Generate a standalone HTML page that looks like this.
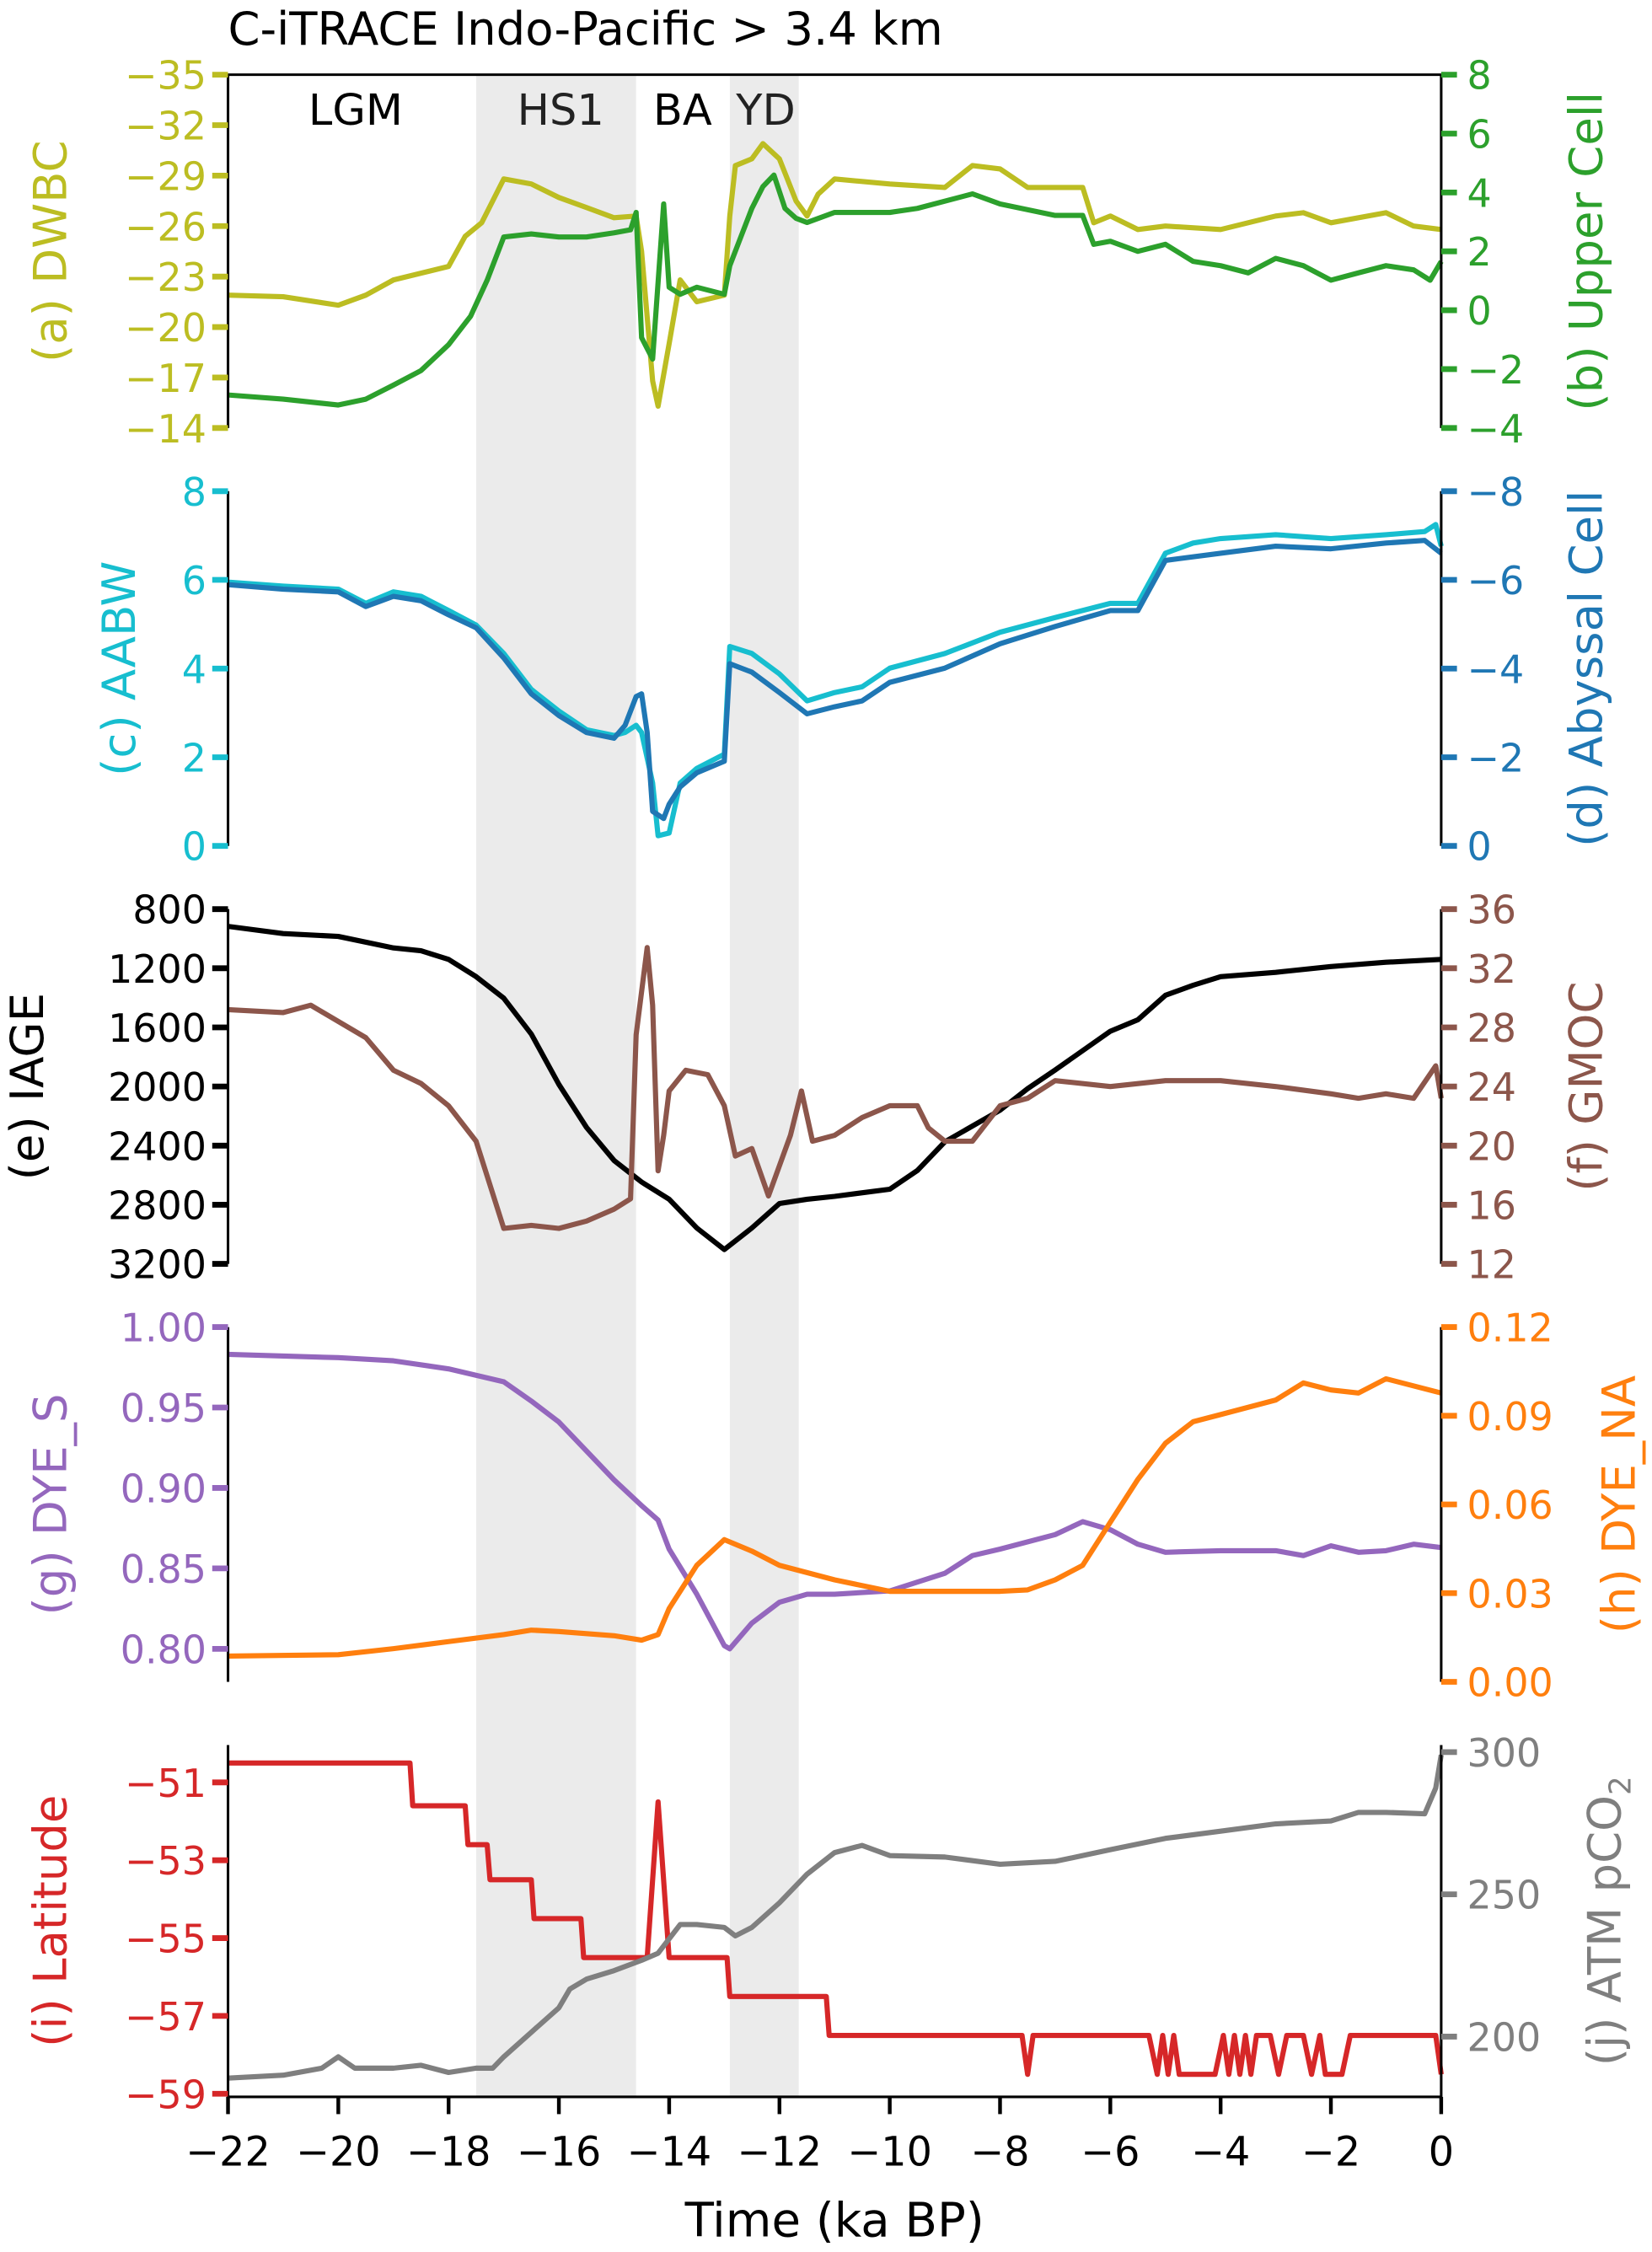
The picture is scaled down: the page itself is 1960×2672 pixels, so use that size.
<!DOCTYPE html>
<html><head><meta charset="utf-8"><style>
html,body{margin:0;padding:0;background:#fff}
svg{display:block}
text{font-family:"DejaVu Sans","Liberation Sans",sans-serif}
</style></head><body>
<svg id="chart" width="1960" height="2672" viewBox="0 0 1152 1568" preserveAspectRatio="none" xmlns="http://www.w3.org/2000/svg"></svg>
<script>
const dwbcT=[-22,-21,-20,-19.5,-19,-18.5,-18,-17.7,-17.4,-17,-16.5,-16,-15.5,-15,-14.6,-14.5,-14.3,-14.2,-14.0,-13.8,-13.5,-13,-12.9,-12.8,-12.5,-12.3,-12.0,-11.7,-11.5,-11.3,-11,-10,-9,-8.5,-8,-7.5,-6.5,-6.3,-6,-5.5,-5,-4,-3,-2.5,-2,-1,-0.5,0];
const dwbcV=[-21.9,-21.8,-21.3,-21.9,-22.8,-23.2,-23.6,-25.4,-26.2,-28.8,-28.5,-27.7,-27.1,-26.5,-26.6,-24.5,-16.8,-15.3,-19.0,-22.8,-21.5,-21.9,-26.6,-29.6,-30.0,-30.9,-30.0,-27.5,-26.6,-27.9,-28.8,-28.5,-28.3,-29.6,-29.4,-28.3,-28.3,-26.2,-26.6,-25.8,-26.0,-25.8,-26.6,-26.8,-26.2,-26.8,-26.0,-25.8];
const upT=[-22,-21,-20,-19.5,-19,-18.5,-18,-17.6,-17.3,-17,-16.5,-16,-15.5,-15,-14.7,-14.6,-14.5,-14.3,-14.1,-14,-13.8,-13.5,-13,-12.9,-12.7,-12.5,-12.3,-12.1,-11.9,-11.7,-11.5,-11,-10,-9.5,-8.5,-8,-7,-6.5,-6.3,-6,-5.5,-5,-4.5,-4,-3.5,-3,-2.5,-2,-1.5,-1,-0.5,-0.2,0];
const upV=[-2.88,-3.02,-3.22,-3.02,-2.54,-2.05,-1.17,-0.2,1.02,2.49,2.59,2.49,2.49,2.63,2.73,3.32,-0.93,-1.66,3.61,0.78,0.54,0.78,0.54,1.51,2.49,3.46,4.2,4.59,3.46,3.12,2.98,3.32,3.32,3.46,3.95,3.61,3.22,3.22,2.24,2.34,2.0,2.24,1.66,1.51,1.27,1.76,1.51,1.02,1.27,1.51,1.37,1.02,1.66];
const aabwT=[-22,-21,-20,-19.5,-19,-18.5,-18,-17.5,-17,-16.5,-16,-15.5,-15,-14.8,-14.6,-14.5,-14.3,-14.2,-14,-13.8,-13.5,-13,-12.9,-12.5,-12,-11.5,-11,-10.5,-10,-9,-8,-7,-6,-5.5,-5,-4.5,-4,-3,-2,-1,-0.3,-0.1,0];
const aabwV=[5.95,5.86,5.79,5.47,5.73,5.63,5.31,4.98,4.34,3.53,3.04,2.62,2.49,2.56,2.72,2.56,1.42,0.23,0.29,1.42,1.75,2.07,4.50,4.34,3.88,3.27,3.46,3.59,4.01,4.34,4.82,5.15,5.47,5.47,6.60,6.83,6.93,7.02,6.93,7.02,7.09,7.25,6.76];
const abyT=[-22,-21,-20,-19.5,-19,-18.5,-18,-17.5,-17,-16.5,-16,-15.5,-15,-14.8,-14.6,-14.5,-14.4,-14.3,-14.1,-14,-13.8,-13.5,-13,-12.9,-12.5,-12,-11.5,-11,-10.5,-10,-9,-8,-7,-6,-5.5,-5,-4,-3,-2,-1,-0.3,0];
const abyV=[-5.89,-5.79,-5.73,-5.40,-5.63,-5.53,-5.21,-4.92,-4.24,-3.43,-2.94,-2.56,-2.43,-2.72,-3.37,-3.43,-2.56,-0.78,-0.62,-0.94,-1.33,-1.65,-1.91,-4.11,-3.92,-3.46,-2.98,-3.14,-3.27,-3.69,-4.01,-4.56,-4.95,-5.31,-5.31,-6.44,-6.60,-6.76,-6.70,-6.83,-6.89,-6.60];
const iageT=[-22,-21,-20,-19,-18.5,-18,-17.5,-17,-16.5,-16,-15.5,-15,-14.5,-14,-13.5,-13,-12.5,-12,-11.5,-11,-10,-9.5,-9,-8,-7.5,-7,-6,-5.5,-5,-4.5,-4,-3,-2,-1,0];
const iageV=[917,965,985,1062,1082,1140,1257,1402,1645,1985,2277,2500,2646,2763,2957,3103,2957,2792,2763,2743,2695,2568,2374,2160,2015,1888,1626,1548,1383,1315,1257,1228,1189,1160,1140];
const gmocT=[-22,-21,-20.5,-19.5,-19,-18.5,-18,-17.5,-17,-16.5,-16,-15.5,-15,-14.7,-14.6,-14.4,-14.3,-14.2,-14.1,-14,-13.7,-13.3,-13,-12.8,-12.5,-12.2,-11.8,-11.6,-11.4,-11,-10.5,-10,-9.5,-9.3,-9,-8.5,-8,-7.5,-7,-6,-5,-4,-3,-2,-1.5,-1,-0.5,-0.1,0];
const gmocV=[29.2,29.0,29.5,27.3,25.1,24.2,22.7,20.3,14.4,14.6,14.4,14.9,15.7,16.4,27.5,33.4,29.5,18.3,20.7,23.7,25.1,24.8,22.7,19.3,19.8,16.6,20.7,23.7,20.3,20.7,21.9,22.7,22.7,21.2,20.3,20.3,22.7,23.2,24.4,24.0,24.4,24.4,24.0,23.5,23.2,23.5,23.2,25.4,23.2];
const dyeST=[-22,-20,-19,-18,-17,-16.5,-16,-15.5,-15,-14.5,-14.2,-14,-13.5,-13,-12.9,-12.5,-12,-11.5,-11,-10,-9,-8.5,-8,-7,-6.5,-6,-5.5,-5,-4,-3,-2.5,-2,-1.5,-1,-0.5,0];
const dyeSV=[.983,.981,.979,.974,.966,.954,.941,.923,.905,.889,.880,.862,.834,.802,.800,.816,.829,.834,.834,.836,.847,.858,.862,.871,.879,.874,.865,.860,.861,.861,.858,.864,.860,.861,.865,.863];
const dyeNT=[-22,-20,-19,-18,-17,-16.5,-16,-15,-14.5,-14.2,-14,-13.5,-13,-12.5,-12,-11,-10,-9,-8,-7.5,-7,-6.5,-6,-5.5,-5,-4.5,-4,-3,-2.5,-2,-1.5,-1,0];
const dyeNV=[.0087,.0092,.0112,.0136,.016,.0175,.017,.0156,.0141,.016,.0248,.0394,.0481,.0442,.0394,.0345,.0306,.0306,.0306,.0311,.0345,.0394,.054,.0685,.0807,.088,.0904,.0953,.1011,.0987,.0977,.1025,.0977];
const latT=[-22,-18.7,-18.65,-17.7,-17.65,-17.3,-17.25,-16.5,-16.45,-15.6,-15.55,-14.4,-14.2,-14.0,-12.95,-12.9,-11.15,-11.1,-7.6,-7.5,-7.4,-5.3,-5.15,-5.05,-4.95,-4.85,-4.75,-4.1,-3.95,-3.85,-3.75,-3.65,-3.55,-3.45,-3.35,-3.1,-2.95,-2.8,-2.5,-2.35,-2.2,-2.1,-1.8,-1.65,-0.1,0];
const latV=[-50.5,-50.5,-51.6,-51.6,-52.6,-52.6,-53.5,-53.5,-54.5,-54.5,-55.5,-55.5,-51.5,-55.5,-55.5,-56.5,-56.5,-57.5,-57.5,-58.5,-57.5,-57.5,-58.5,-57.5,-58.5,-57.5,-58.5,-58.5,-57.5,-58.5,-57.5,-58.5,-57.5,-58.5,-57.5,-57.5,-58.5,-57.5,-57.5,-58.5,-57.5,-58.5,-58.5,-57.5,-57.5,-58.5];
const co2T=[-22,-21,-20.3,-20,-19.7,-19,-18.5,-18,-17.5,-17.2,-17,-16.5,-16,-15.8,-15.5,-15,-14.5,-14.2,-13.8,-13.5,-13,-12.8,-12.5,-12,-11.5,-11,-10.5,-10,-9,-8,-7,-6.5,-6,-5,-4,-3,-2,-1.5,-1,-0.3,-0.1,0];
const co2V=[185.4,186.4,188.9,192.9,188.9,188.9,189.9,187.4,188.9,188.9,192.9,201.5,210.1,216.7,220.2,223.2,226.8,229.3,239.4,239.4,238.4,235.4,238.4,247.0,257.1,264.7,267.2,263.6,263.1,260.6,261.6,263.6,265.7,269.7,272.2,274.8,275.8,278.8,278.8,278.3,287.4,299];
const xTicks=[-22,-20,-18,-16,-14,-12,-10,-8,-6,-4,-2,0];

const svg=document.getElementById('chart');
const NS='http://www.w3.org/2000/svg';
const X0=159,X1=1005;
function xs(t){return X0+(t+22)/22*(X1-X0);}
function mk(tag,attrs,parent){const e=document.createElementNS(NS,tag);for(const k in attrs)e.setAttribute(k,attrs[k]);(parent||svg).appendChild(e);return e;}
function lin(d0,d1,p0,p1){return v=>p0+(v-d0)/(d1-d0)*(p1-p0);}

const bands=[[-17.5,-14.6,'hs1'],[-12.9,-11.65,'yd']];
bands.forEach(b=>{const r=mk('rect',{x:xs(b[0]),y:52,width:xs(b[1])-xs(b[0]),height:1460-52,fill:'#ebebeb'});

});

function panel(cfg){
  const g=mk('g',{});
  
  
  const yl=lin(cfg.lmin,cfg.lmax,cfg.yb,cfg.yt), yr=lin(cfg.rmin,cfg.rmax,cfg.yb,cfg.yt);
  cfg.series.forEach(s=>{
    const sc=s.side==='l'?yl:yr;
    const d=s.t.map((t,i)=>(i?'L':'M')+xs(t).toFixed(1)+','+sc(s.v[i]).toFixed(1)).join('');
    const p=mk('path',{d:d,fill:'none',stroke:s.c,'stroke-width':3.6,'stroke-linejoin':'round'},g);
    
    
  });
  mk('line',{x1:X0,y1:cfg.yt,x2:X0,y2:cfg.yb,stroke:'#000','stroke-width':1.8},g);
  mk('line',{x1:X1,y1:cfg.yt,x2:X1,y2:cfg.yb,stroke:'#000','stroke-width':1.8},g);
  cfg.lt.forEach(v=>{const y=yl(v);
    mk('line',{x1:X0-11,y1:y,x2:X0,y2:y,stroke:cfg.lc,'stroke-width':4},g);
    const t=mk('text',{x:X0-15,y:y+10,'text-anchor':'end','font-size':27,fill:cfg.lc},g);t.textContent=cfg.lf(v);
    
    });
  cfg.rt.forEach(v=>{const y=yr(v);
    mk('line',{x1:X1,y1:y,x2:X1+11,y2:y,stroke:cfg.rc,'stroke-width':4},g);
    const t=mk('text',{x:X1+18,y:y+10,'text-anchor':'start','font-size':27,fill:cfg.rc},g);t.textContent=cfg.rf(v);
    
    });
  const cy=(cfg.yt+cfg.yb)/2;
  const l=mk('text',{x:0,y:0,'text-anchor':'middle','font-size':32,fill:cfg.lc,transform:`translate(${cfg.llx},${cy}) rotate(-90)`},g);l.textContent=cfg.ll;
  
  
  const r=mk('text',{x:0,y:0,'text-anchor':'middle','font-size':32,fill:cfg.rc,transform:`translate(${cfg.rlx},${cy}) rotate(-90)`},g);r.innerHTML=cfg.rl;
  
  
}
const neg=v=>v<0?'\u2212'+Math.abs(v):String(v);
function rng(a,b,s){const o=[];for(let v=a;s>0?v<=b+1e-9:v>=b-1e-9;v+=s)o.push(Math.round(v*1000)/1000);return o;}

panel({name:'panel-ab',yt:52,yb:298,lmin:-14,lmax:-35,rmin:-4,rmax:8,lc:'#bcbd22',rc:'#2ca02c',
 lt:rng(-35,-14,3),rt:rng(-4,8,2),lf:neg,rf:neg,ll:'(a) DWBC',rl:'(b) Upper Cell',llx:46,rlx:1117,
 series:[{t:dwbcT,v:dwbcV,c:'#bcbd22',side:'l',n:'dwbc-line'},{t:upT,v:upV,c:'#2ca02c',side:'r',n:'upper-cell-line'}]});
panel({name:'panel-cd',yt:342,yb:589,lmin:0,lmax:8,rmin:0,rmax:-8,lc:'#17becf',rc:'#1f77b4',
 lt:rng(0,8,2),rt:rng(0,-8,-2),lf:neg,rf:neg,ll:'(c) AABW',rl:'(d) Abyssal Cell',llx:94,rlx:1117,
 series:[{t:aabwT,v:aabwV,c:'#17becf',side:'l',n:'aabw-line'},{t:abyT,v:abyV,c:'#1f77b4',side:'r',n:'abyssal-cell-line'}]});
panel({name:'panel-ef',yt:633,yb:880,lmin:3200,lmax:800,rmin:12,rmax:36,lc:'#000',rc:'#8c564b',
 lt:rng(800,3200,400),rt:rng(12,36,4),lf:neg,rf:neg,ll:'(e) IAGE',rl:'(f) GMOC',llx:30,rlx:1117,
 series:[{t:iageT,v:iageV,c:'#000',side:'l',n:'iage-line'},{t:gmocT,v:gmocV,c:'#8c564b',side:'r',n:'gmoc-line'}]});
panel({name:'panel-gh',yt:924,yb:1171,lmin:0.7795,lmax:1.0,rmin:0,rmax:0.12,lc:'#9467bd',rc:'#ff7f0e',
 lt:rng(0.80,1.0,0.05),rt:rng(0,0.12,0.03),lf:v=>v.toFixed(2),rf:v=>v.toFixed(2),ll:'(g) DYE_S',rl:'(h) DYE_NA',llx:46,rlx:1140,
 series:[{t:dyeST,v:dyeSV,c:'#9467bd',side:'l',n:'dye-s-line'},{t:dyeNT,v:dyeNV,c:'#ff7f0e',side:'r',n:'dye-na-line'}]});
panel({name:'panel-ij',yt:1215,yb:1460,lmin:-59.08,lmax:-50.04,rmin:178.8,rmax:302.5,lc:'#d62728',rc:'#7f7f7f',
 lt:rng(-59,-51,2),rt:[200,250,300],lf:neg,rf:neg,ll:'(i) Latitude',rl:'(j) ATM pCO<tspan font-size="21" dy="7">2</tspan>',llx:46,rlx:1130,
 series:[{t:latT,v:latV,c:'#d62728',side:'l',n:'latitude-line'},{t:co2T,v:co2V,c:'#7f7f7f',side:'r',n:'pco2-line'}]});

mk('line',{x1:X0,y1:52,x2:X1,y2:52,stroke:'#000','stroke-width':1.8});
mk('line',{x1:X0,y1:1460,x2:X1,y2:1460,stroke:'#000','stroke-width':1.8});
xTicks.forEach(v=>{const x=xs(v);
  mk('line',{x1:x,y1:1460,x2:x,y2:1472,stroke:'#000','stroke-width':2.6});
  const t=mk('text',{x:x,y:1508,'text-anchor':'middle','font-size':28,fill:'#000'});t.textContent=neg(v);
  
  });
</script>
<svg style="position:absolute;left:0;top:0" width="1960" height="2672" viewBox="0 0 1152 1568" preserveAspectRatio="none" xmlns="http://www.w3.org/2000/svg">
<text x="159" y="31" font-size="32" fill="#000" font-family="DejaVu Sans, Liberation Sans, sans-serif">C-iTRACE Indo-Pacific &gt; 3.4 km</text>
<text x="248" y="87" font-size="30" text-anchor="middle" fill="#000" font-family="DejaVu Sans, Liberation Sans, sans-serif">LGM</text>
<text x="391" y="87" font-size="30" text-anchor="middle" fill="#222" font-family="DejaVu Sans, Liberation Sans, sans-serif">HS1</text>
<text x="476" y="87" font-size="30" text-anchor="middle" fill="#000" font-family="DejaVu Sans, Liberation Sans, sans-serif">BA</text>
<text x="534" y="87" font-size="30" text-anchor="middle" fill="#222" font-family="DejaVu Sans, Liberation Sans, sans-serif">YD</text>
<text x="582" y="1557" font-size="33" text-anchor="middle" fill="#000" font-family="DejaVu Sans, Liberation Sans, sans-serif">Time (ka BP)</text>
</svg>
</body></html>
